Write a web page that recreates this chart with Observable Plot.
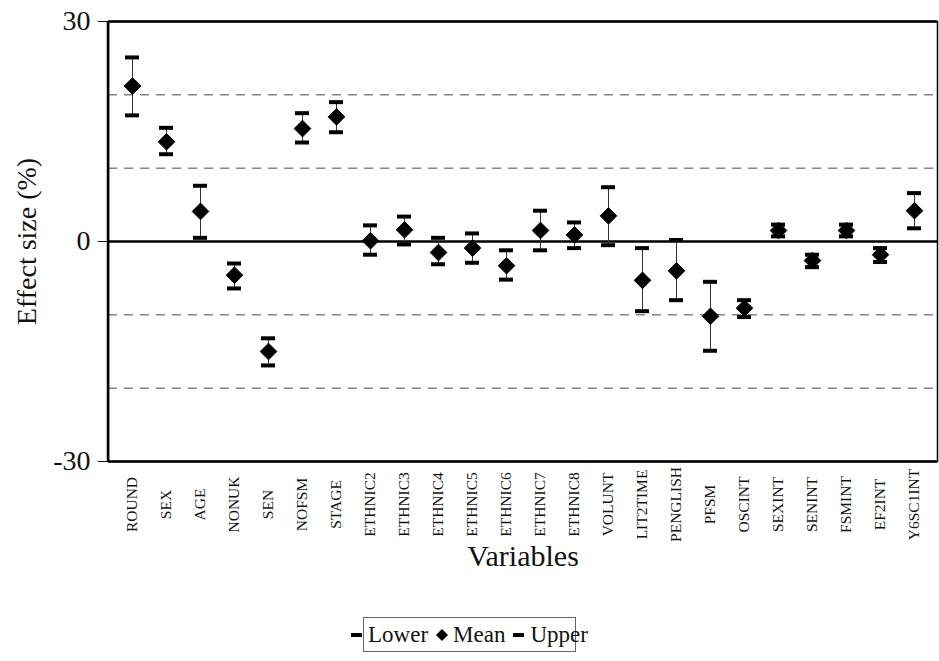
<!DOCTYPE html>
<html>
<head>
<meta charset="utf-8">
<script src="https://cdn.jsdelivr.net/npm/d3@7"></script>
<script src="https://cdn.jsdelivr.net/npm/@observablehq/plot@0.6"></script>
<style>
  body { margin: 0; background: #fff; font-family: "Liberation Serif", "Times New Roman", Tinos, "DejaVu Serif", serif; }
  #wrap { position: relative; width: 939px; height: 661px; }
  #legend { position: absolute; left: 363px; top: 617px; width: 213px; height: 35px; box-sizing: border-box;
    border: 1px solid #666; display: flex; align-items: center; justify-content: center;
    font-size: 23px; color: #111; white-space: nowrap; font-family: "Liberation Serif", "Times New Roman", Tinos, "DejaVu Serif", serif; }
  #legend span.item { display: inline-flex; align-items: center; margin: 0 4px; }
  #legend svg { margin-right: 5px; }
  #chart svg text { font-family: "Liberation Serif", "Times New Roman", Tinos, "DejaVu Serif", serif !important; }
</style>
</head>
<body>
<div id="wrap">
  <div id="chart"></div>
  <div id="legend"></div>
</div>
<script>
const variables = ["ROUND","SEX","AGE","NONUK","SEN","NOFSM","STAGE","ETHNIC2","ETHNIC3","ETHNIC4","ETHNIC5","ETHNIC6","ETHNIC7","ETHNIC8","VOLUNT","LIT2TIME","PENGLISH","PFSM","OSCINT","SEXINT","SENINT","FSMINT","EF2INT","Y6SC1INT"];
const meanValues  = [21.2, 13.6, 4.1, -4.6, -15.0, 15.4, 17.0, 0.1, 1.6, -1.5, -0.9, -3.3, 1.5, 0.9, 3.5, -5.3, -4.0, -10.2, -9.1, 1.5, -2.6, 1.5, -1.8, 4.2];
const upperValues = [25.1, 15.5, 7.6, -3.0, -13.2, 17.5, 19.0, 2.2, 3.4, 0.5, 1.1, -1.2, 4.2, 2.6, 7.4, -0.9, 0.2, -5.5, -8.0, 2.3, -1.8, 2.3, -0.9, 6.6];
const lowerValues = [17.2, 11.9, 0.5, -6.4, -16.9, 13.5, 14.9, -1.8, -0.4, -3.1, -2.9, -5.2, -1.2, -0.9, -0.5, -9.5, -8.0, -14.9, -10.3, 0.7, -3.5, 0.7, -2.8, 1.8];
const yTicks = [30, 0, -30];
const gridValues = [20, 10, -10, -20];
const xTitle = "Variables";
const yTitle = "Effect size (%)";

const data = variables.map((v, i) => ({name: v, mean: meanValues[i], upper: upperValues[i], lower: lowerValues[i]}));

const serif = "'Liberation Serif', 'Times New Roman', Tinos, 'DejaVu Serif', serif";
const chart = Plot.plot({
  width: 939,
  height: 610,
  marginLeft: 108,
  marginRight: 2,
  marginTop: 21,
  marginBottom: 149,
  style: {fontFamily: serif, background: "#fff", color: "#111"},
  x: {domain: variables, padding: 0},
  y: {domain: [-30, 30]},
  marks: [
    Plot.ruleY(gridValues, {stroke: "#444", strokeWidth: 1, strokeDasharray: "9,7"}),
    Plot.ruleY([0], {stroke: "#000", strokeWidth: 2.5}),
    Plot.ruleX(data, {x: "name", y1: "lower", y2: "upper", stroke: "#333", strokeWidth: 1}),
    Plot.tickY(data, {x: "name", y: "lower", stroke: "#000", strokeWidth: 4, insetLeft: 10, insetRight: 10}),
    Plot.tickY(data, {x: "name", y: "upper", stroke: "#000", strokeWidth: 4, insetLeft: 10, insetRight: 10}),
    Plot.dot(data, {x: "name", y: "mean", symbol: "diamond2", r: 7.5, fill: "#000", stroke: "#000", strokeWidth: 1}),
    Plot.frame({stroke: "#000", strokeWidth: 1.5}),
    Plot.ruleY([30, -30], {stroke: "#000", strokeWidth: 2.5}),
    Plot.axisY({ticks: yTicks, tickSize: 10, tickPadding: 8, fontSize: 28, tickFormat: d => String(d), label: null}),
    Plot.axisX({ticks: [], tickSize: 0, label: null}),
    Plot.text(variables, {x: d => d, frameAnchor: "bottom", rotate: -90, textAnchor: "middle", lineAnchor: "middle", dy: 43, fontSize: 15.5, fill: "#111"}),
    Plot.text([xTitle], {frameAnchor: "bottom", dy: 95, textAnchor: "middle", lineAnchor: "middle", fontSize: 30, fill: "#111"}),
    Plot.text([yTitle], {frameAnchor: "left", dx: -81, rotate: -90, textAnchor: "middle", lineAnchor: "middle", fontSize: 28, fill: "#111"})
  ]
});
const svg = d3.select(chart);
svg.append("line").attr("x1", 108).attr("x2", 108).attr("y1", 21).attr("y2", 461).attr("stroke", "#000").attr("stroke-width", 2.5);
document.getElementById("chart").appendChild(chart);

const legend = d3.select("#legend");
const items = [
  {label: "Lower", kind: "dash"},
  {label: "Mean", kind: "diamond"},
  {label: "Upper", kind: "dash"}
];
items.forEach(it => {
  const s = legend.append("span").attr("class", "item");
  const sv = s.append("svg").attr("width", 12).attr("height", 12);
  if (it.kind === "dash") sv.append("rect").attr("x", 0).attr("y", 4).attr("width", 11).attr("height", 4).attr("fill", "#000");
  else sv.append("path").attr("d", "M6,0L12,6L6,12L0,6Z").attr("fill", "#000");
  s.append("span").text(it.label);
});
</script>
</body>
</html>
